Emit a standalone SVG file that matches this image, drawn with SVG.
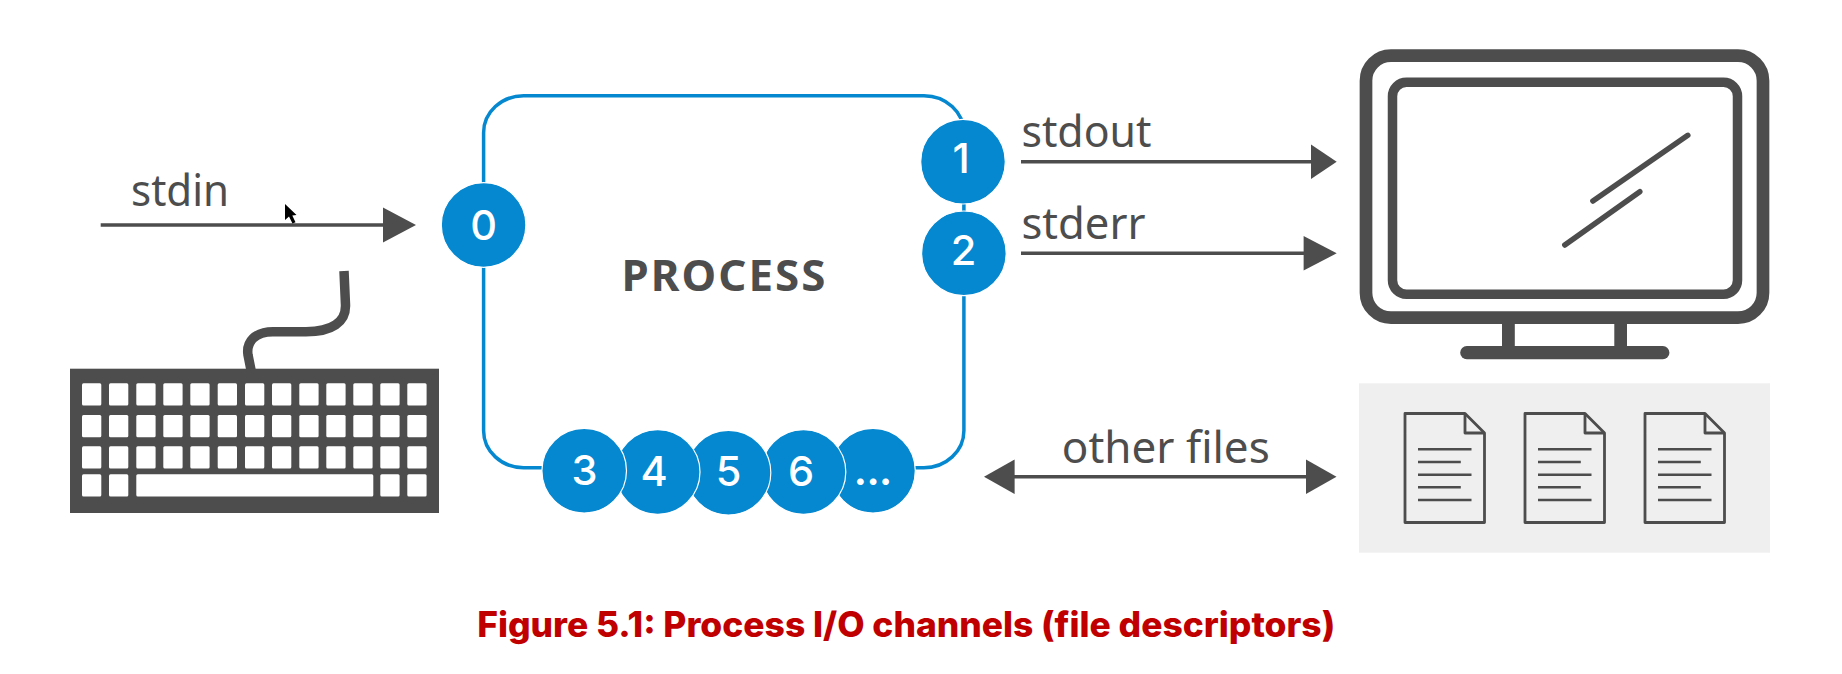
<svg xmlns="http://www.w3.org/2000/svg" width="1842" height="674" viewBox="0 0 1842 674">
<style>
.lbl{font-family:"Noto Sans","Open Sans",sans-serif;font-size:43px;fill:#4d4d4d;font-variant-ligatures:none}
.num{font-family:Inter,"Noto Sans",sans-serif;font-size:41.5px;font-weight:500;fill:#fff;text-anchor:middle}
.fd{fill:#0588cf;stroke:#fff;stroke-width:1.2}
.ln{stroke:#4d4d4d;stroke-width:3.5;fill:none}
.hd{fill:#4d4d4d}
.key{fill:#fff}
.doc{fill:none;stroke:#4d4d4d;stroke-width:2.8;stroke-linejoin:round}
.dl{stroke:#4d4d4d;stroke-width:2.6}
</style>
<defs>
<g id="file">
<path class="doc" d="M1405 413.500H1465L1484.500 433V522.500H1405Z"/>
<path class="doc" d="M1465 413.500V433H1484.500"/>
<path class="dl" d="M1418 449.300H1471.500M1418 462H1460.800M1418 474.700H1471.500M1418 487.300H1460.800M1418 500H1471.500"/>
</g>
</defs>
<rect width="1842" height="674" fill="#fff"/>
<g id="process">
<rect x="483.600" y="95.700" width="480.300" height="372" rx="40" ry="37" fill="none" stroke="#0588cf" stroke-width="3.500"/>
<text x="621.400" y="291" textLength="206" lengthAdjust="spacingAndGlyphs" style="font-family:'Noto Sans',sans-serif;font-size:42.500px;font-weight:700;letter-spacing:2px;fill:#4d4d4d">PROCESS</text>
</g>
<g id="connectors">
<line class="ln" x1="100.700" y1="225" x2="385" y2="225"/><polygon class="hd" points="383,207.500 416,225 383,242.500"/>
<line class="ln" x1="1021" y1="161.700" x2="1313" y2="161.700"/><polygon class="hd" points="1311,144.400 1336.700,161.700 1311,179"/>
<line class="ln" x1="1021" y1="253.300" x2="1305" y2="253.300"/><polygon class="hd" points="1303.600,236 1336.700,253.300 1303.600,270.600"/>
<line class="ln" x1="1012" y1="476.700" x2="1308" y2="476.700"/><polygon class="hd" points="1014.600,459.400 984,476.700 1014.600,494"/><polygon class="hd" points="1306,459.400 1336.500,476.700 1306,494"/>
</g>
<g id="fd0"><circle class="fd" cx="483.600" cy="225" r="42.300"/><text class="num" x="483.600" y="240">0</text></g>
<g id="fd1"><circle class="fd" cx="963" cy="161.700" r="42.300"/><text class="num" x="961" y="173.300">1</text></g>
<g id="fd2"><circle class="fd" cx="963.900" cy="253.300" r="42.300"/><text class="num" x="963.500" y="265">2</text></g>
<g id="fdmore"><circle class="fd" cx="873" cy="470.700" r="42.300"/><text class="num" x="873" y="485" style="font-weight:800;font-size:36px">...</text></g>
<g id="fd6"><circle class="fd" cx="803.500" cy="472" r="42.300"/><text class="num" x="801" y="486">6</text></g>
<g id="fd5"><circle class="fd" cx="728.500" cy="472.700" r="42.300"/><text class="num" x="728.500" y="486">5</text></g>
<g id="fd4"><circle class="fd" cx="657.700" cy="472" r="42.300"/><text class="num" x="654" y="486">4</text></g>
<g id="fd3"><circle class="fd" cx="584.200" cy="470.700" r="42.300"/><text class="num" x="584.600" y="485">3</text></g>
<g id="labels">
<text class="lbl" x="131" y="205.700" textLength="98" lengthAdjust="spacingAndGlyphs">stdin</text>
<text class="lbl" x="1021.400" y="147.300" textLength="130" lengthAdjust="spacingAndGlyphs">stdout</text>
<text class="lbl" x="1021.400" y="239" textLength="124" lengthAdjust="spacingAndGlyphs">stderr</text>
<text class="lbl" x="1061.800" y="462.700" textLength="208" lengthAdjust="spacingAndGlyphs">other files</text>
</g>
<g id="keyboard">
<path d="M344 271L345.500 305C346 322 332 331.700 306 331.700H273C255 331.700 246 342 248 355L251 370" fill="none" stroke="#4d4d4d" stroke-width="9.500"/>
<rect x="70" y="368.700" width="369" height="144.300" fill="#4d4d4d"/>
<g id="keys">
<rect class="key" x="82" y="383.300" width="19.300" height="22.300" rx="1.500"/><rect class="key" x="109" y="383.300" width="19.300" height="22.300" rx="1.500"/><rect class="key" x="136.300" y="383.300" width="19.300" height="22.300" rx="1.500"/><rect class="key" x="163.300" y="383.300" width="19.300" height="22.300" rx="1.500"/><rect class="key" x="190.300" y="383.300" width="19.300" height="22.300" rx="1.500"/><rect class="key" x="217.700" y="383.300" width="19.300" height="22.300" rx="1.500"/><rect class="key" x="245" y="383.300" width="19.300" height="22.300" rx="1.500"/><rect class="key" x="272" y="383.300" width="19.300" height="22.300" rx="1.500"/><rect class="key" x="299.300" y="383.300" width="19.300" height="22.300" rx="1.500"/><rect class="key" x="326.300" y="383.300" width="19.300" height="22.300" rx="1.500"/><rect class="key" x="353.300" y="383.300" width="19.300" height="22.300" rx="1.500"/><rect class="key" x="380.300" y="383.300" width="19.300" height="22.300" rx="1.500"/><rect class="key" x="407.300" y="383.300" width="19.300" height="22.300" rx="1.500"/>
<rect class="key" x="82" y="415" width="19.300" height="22.300" rx="1.500"/><rect class="key" x="109" y="415" width="19.300" height="22.300" rx="1.500"/><rect class="key" x="136.300" y="415" width="19.300" height="22.300" rx="1.500"/><rect class="key" x="163.300" y="415" width="19.300" height="22.300" rx="1.500"/><rect class="key" x="190.300" y="415" width="19.300" height="22.300" rx="1.500"/><rect class="key" x="217.700" y="415" width="19.300" height="22.300" rx="1.500"/><rect class="key" x="245" y="415" width="19.300" height="22.300" rx="1.500"/><rect class="key" x="272" y="415" width="19.300" height="22.300" rx="1.500"/><rect class="key" x="299.300" y="415" width="19.300" height="22.300" rx="1.500"/><rect class="key" x="326.300" y="415" width="19.300" height="22.300" rx="1.500"/><rect class="key" x="353.300" y="415" width="19.300" height="22.300" rx="1.500"/><rect class="key" x="380.300" y="415" width="19.300" height="22.300" rx="1.500"/><rect class="key" x="407.300" y="415" width="19.300" height="22.300" rx="1.500"/>
<rect class="key" x="82" y="446.300" width="19.300" height="22.300" rx="1.500"/><rect class="key" x="109" y="446.300" width="19.300" height="22.300" rx="1.500"/><rect class="key" x="136.300" y="446.300" width="19.300" height="22.300" rx="1.500"/><rect class="key" x="163.300" y="446.300" width="19.300" height="22.300" rx="1.500"/><rect class="key" x="190.300" y="446.300" width="19.300" height="22.300" rx="1.500"/><rect class="key" x="217.700" y="446.300" width="19.300" height="22.300" rx="1.500"/><rect class="key" x="245" y="446.300" width="19.300" height="22.300" rx="1.500"/><rect class="key" x="272" y="446.300" width="19.300" height="22.300" rx="1.500"/><rect class="key" x="299.300" y="446.300" width="19.300" height="22.300" rx="1.500"/><rect class="key" x="326.300" y="446.300" width="19.300" height="22.300" rx="1.500"/><rect class="key" x="353.300" y="446.300" width="19.300" height="22.300" rx="1.500"/><rect class="key" x="380.300" y="446.300" width="19.300" height="22.300" rx="1.500"/><rect class="key" x="407.300" y="446.300" width="19.300" height="22.300" rx="1.500"/>
<rect class="key" x="82" y="474.300" width="19.300" height="22.300" rx="1.500"/><rect class="key" x="109" y="474.300" width="19.300" height="22.300" rx="1.500"/><rect class="key" x="136.300" y="474.300" width="237" height="22.300" rx="1.500"/><rect class="key" x="380.300" y="474.300" width="19.300" height="22.300" rx="1.500"/><rect class="key" x="407.300" y="474.300" width="19.300" height="22.300" rx="1.500"/>
</g>
</g>
<g id="cursor"><polygon points="285,204 285,220 289,216.500 292.500,223.500 295.500,222.300 292.300,215.500 296.500,215" fill="#000"/></g>
<g id="monitor">
<rect x="1366" y="55.700" width="397" height="262" rx="25" ry="25" fill="none" stroke="#4d4d4d" stroke-width="12.700"/>
<rect x="1392.500" y="82.300" width="345" height="212" rx="14" ry="14" fill="none" stroke="#4d4d4d" stroke-width="9.500"/>
<path d="M1592.900 201L1687.800 135.300M1564.800 245L1639.800 191.700" stroke="#4d4d4d" stroke-width="5.500" stroke-linecap="round"/>
<path d="M1502 322H1514.800V348H1502ZM1614.300 322H1627V348H1614.300Z" fill="#4d4d4d"/>
<rect x="1460.200" y="346" width="209.200" height="13.300" rx="6.600" fill="#4d4d4d"/>
</g>
<g id="files">
<rect x="1359" y="383.300" width="411" height="169.400" fill="#efefef"/>
<use href="#file"/><use href="#file" x="120"/><use href="#file" x="240"/>
</g>
<g id="caption"><text x="477.200" y="637.300" textLength="858" lengthAdjust="spacingAndGlyphs" style="font-family:Inter,'Noto Sans',sans-serif;font-size:35px;font-weight:800;fill:#c00000">Figure 5.1: Process I/O channels (file descriptors)</text></g>
</svg>
